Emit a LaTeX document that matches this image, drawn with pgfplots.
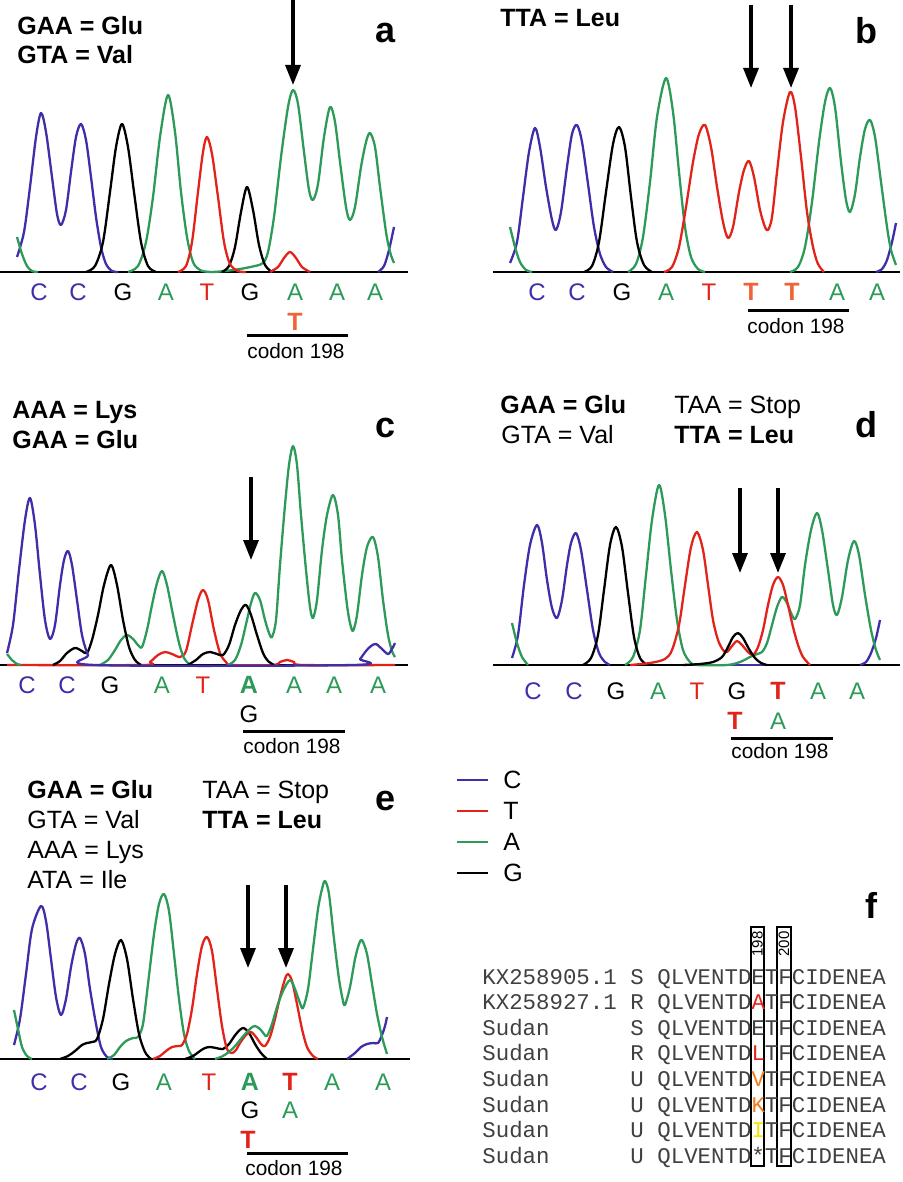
\documentclass[border=0pt]{standalone}
\usepackage{fontspec}
\setmainfont{Liberation Sans}
\setmonofont{Liberation Mono}
\usepackage{pgfplots}
\pgfplotsset{compat=1.18}
\usetikzlibrary{arrows.meta}

\definecolor{cC}{RGB}{62,46,168}
\definecolor{cT}{RGB}{226,35,26}
\definecolor{cA}{RGB}{46,154,90}
\definecolor{cOr}{RGB}{240,98,58}
\definecolor{cK}{RGB}{240,125,30}
\definecolor{cY}{RGB}{245,228,0}

% one axis per chromatogram: x = image column, y = height above the baseline
\pgfplotsset{
  panel/.style={anchor=south west, x=0.5pt, y=0.5pt, xmin=0, xmax=902,
    ymin=0, ymax=240, hide axis, clip=false},
  trC/.style={cC, smooth, tension=0.5, line width=1.15pt, line join=round},
  trT/.style={cT, smooth, tension=0.5, line width=1.15pt, line join=round},
  trA/.style={cA, smooth, tension=0.5, line width=1.15pt, line join=round},
  trG/.style={black, smooth, tension=0.5, line width=1.15pt, line join=round},
  base/.style={black, sharp plot, line width=1.3pt},
}
\tikzset{
  arr/.style={line width=1.6pt, -{Triangle[width=7.5pt,length=10pt]}},
  bl/.style={anchor=base, font=\fontsize{12}{12}\selectfont},
  bb/.style={anchor=base, font=\fontsize{12.5}{12.5}\selectfont\bfseries},
  cod/.style={anchor=base west, font=\fontsize{12.5}{12.5}\selectfont},
  codb/.style={anchor=base west, font=\fontsize{12.5}{12.5}\selectfont\bfseries},
  lab/.style={anchor=base west, font=\fontsize{18}{18}\selectfont\bfseries},
  cdn/.style={anchor=base west, font=\fontsize{10.4}{10.4}\selectfont},
  mono/.style={anchor=base west, inner sep=0pt, text=black!75, font=\fontsize{11.2}{11.2}\selectfont\ttfamily},
}

\begin{document}
\begin{tikzpicture}[x=0.5pt, y=-0.5pt, inner sep=0pt]
\path[use as bounding box] (0,0) rectangle (902,1182);

%% ---------------- panel a ----------------
\begin{axis}[panel, at={(0pt,-136pt)}]
\addplot[base] coordinates {(0,0) (408,0)};
\addplot[trC] coordinates {(17,15) (24,40) (30,85) (36,135) (41,159) (46,140) (52,95) (57,58) (61,47) (66,62) (71,100) (76,135) (81,148) (86,132) (91,95) (96,55) (101,25) (106,8) (112,1) (118,0)};
\addplot[trC] coordinates {(378,0) (384,6) (389,22) (394,45)};
\addplot[trA] coordinates {(17,35) (22,18) (27,6) (32,1) (38,0)};
\addplot[trA] coordinates {(128,0) (138,6) (146,30) (153,75) (160,135) (168,177) (175,140) (181,80) (187,35) (193,10) (200,2) (210,0) (225,1) (240,3) (255,6) (263,9) (268,20) (274,55) (281,115) (288,165) (293,182) (298,168) (304,120) (309,82) (313,72) (318,88) (324,135) (330,165) (335,150) (340,110) (346,65) (350,52) (355,65) (361,105) (366,130) (370,139) (375,125) (380,85) (386,40) (390,20) (394,9)};
\addplot[trG] coordinates {(86,0) (95,6) (103,30) (110,80) (116,125) (122,148) (128,125) (134,80) (141,30) (148,6) (156,0)};
\addplot[trG] coordinates {(222,0) (229,6) (235,25) (241,60) (247,85) (253,62) (259,27) (265,7) (272,0)};
\addplot[trT] coordinates {(178,0) (186,6) (192,30) (198,80) (203,120) (207,135) (212,118) (218,75) (224,30) (230,8) (238,1) (246,0)};
\addplot[trT] coordinates {(270,0) (278,5) (284,14) (290,20) (296,14) (302,5) (310,0)};
\end{axis}

%% ---------------- panel b ----------------
\begin{axis}[panel, at={(0pt,-136pt)}]
\addplot[base] coordinates {(493,0) (900,0)};
\addplot[trC] coordinates {(510,9) (517,30) (523,75) (529,120) (535,144) (540,125) (546,85) (552,52) (556,42) (561,60) (567,105) (572,138) (577,147) (582,130) (588,88) (594,45) (600,18) (606,5) (613,0)};
\addplot[trC] coordinates {(876,0) (882,3) (887,12) (892,30) (896,49)};
\addplot[trA] coordinates {(510,45) (515,25) (520,10) (526,2) (532,0)};
\addplot[trA] coordinates {(628,0) (636,8) (643,35) (650,90) (657,155) (666,194) (673,160) (679,100) (685,45) (691,15) (698,3) (705,0)};
\addplot[trA] coordinates {(790,0) (798,5) (805,25) (812,70) (819,130) (825,170) (830,184) (835,165) (841,110) (846,72) (850,60) (855,78) (860,115) (865,143) (870,152) (875,135) (881,90) (887,45) (891,22) (896,7)};
\addplot[trG] coordinates {(584,0) (592,6) (599,30) (606,80) (613,128) (619,145) (625,125) (631,75) (637,30) (644,7) (652,0)};
\addplot[trT] coordinates {(664,0) (672,5) (679,25) (686,65) (693,110) (699,138) (705,147) (711,125) (717,85) (723,50) (728,34) (733,45) (739,80) (744,102) (749,111) (754,95) (760,62) (765,45) (768,42) (772,55) (777,100) (783,150) (790,180) (795,165) (801,115) (807,60) (813,25) (818,8) (824,0)};
\end{axis}

%% ---------------- panel c ----------------
\begin{axis}[panel, at={(0pt,-332.5pt)}]
\addplot[base] coordinates {(0,0) (408,0)};
\addplot[trT] coordinates {(7,0) (143,0) (150,3) (158,10) (165,13) (172,11) (180,8) (186,14) (192,40) (198,65) (203,75) (208,65) (214,35) (220,12) (226,3) (232,0) (273,0) (280,3) (287,5) (294,3) (303,0) (395,0)};
\addplot[trA] coordinates {(7,11) (12,5) (17,1) (21,0)};
\addplot[trA] coordinates {(100,0) (108,5) (115,15) (121,25) (127,30) (133,26) (138,20) (142,18) (147,35) (152,60) (157,82) (162,94) (167,80) (173,50) (179,22) (184,7) (190,0)};
\addplot[trA] coordinates {(228,0) (235,5) (241,20) (247,45) (251,62) (255,72) (260,65) (265,45) (269,32) (272,28) (276,45) (280,100) (285,160) (289,200) (293,219) (297,200) (301,150) (306,95) (310,58) (313,47) (317,65) (322,115) (327,150) (333,170) (338,150) (342,105) (347,60) (350,42) (353,34) (357,50) (362,90) (367,118) (373,128) (378,108) (383,65) (388,30) (392,14) (395,8)};
\addplot[trG] coordinates {(53,0) (60,4) (67,12) (75,17) (82,14) (87,12) (92,25) (98,50) (104,80) (111,100) (117,80) (123,45) (129,18) (135,5) (141,0)};
\addplot[trG] coordinates {(188,0) (196,5) (203,11) (210,13) (217,11) (223,10) (229,20) (235,40) (241,55) (246,60) (251,50) (257,30) (263,12) (268,4) (274,0)};
\addplot[trC] coordinates {(7,12) (13,40) (19,95) (25,145) (30,167) (35,140) (40,90) (45,45) (50,26) (55,40) (60,80) (64,105) (68,114) (72,100) (77,65) (82,30) (88,10) (95,0) (353,0) (360,6) (366,14) (371,19) (376,21) (382,16) (388,11) (392,16) (395,22)};
\end{axis}

%% ---------------- panel d ----------------
\begin{axis}[panel, at={(0pt,-332.5pt)}]
\addplot[base] coordinates {(493,0) (900,0)};
\addplot[trC] coordinates {(512,7) (518,30) (524,80) (530,120) (537,140) (542,122) (547,85) (552,57) (557,47) (562,65) (567,100) (571,122) (576,132) (581,115) (587,75) (593,35) (599,12) (605,3) (610,0)};
\addplot[trC] coordinates {(860,0) (866,3) (871,12) (876,27) (880,45)};
\addplot[trC] coordinates {(725,0) (765,0)};
\addplot[trA] coordinates {(512,42) (517,22) (522,8) (528,0)};
\addplot[trA] coordinates {(625,0) (633,8) (640,35) (646,90) (652,145) (659,180) (665,150) (671,95) (677,45) (683,15) (690,3) (697,0) (727,0) (740,3) (750,8) (757,11) (762,13) (767,22) (772,40) (777,58) (782,68) (787,62) (791,52) (795,46) (800,60) (805,100) (811,135) (817,152) (822,135) (828,95) (833,60) (837,50) (842,68) (848,105) (854,124) (859,110) (865,70) (871,35) (876,15) (880,5)};
\addplot[trG] coordinates {(583,0) (591,7) (598,30) (604,75) (610,120) (616,138) (622,118) (628,72) (634,28) (640,7) (647,0)};
\addplot[trT] coordinates {(630,0) (650,2) (665,6) (672,15) (679,40) (685,80) (691,118) (697,133) (703,115) (708,80) (713,45) (718,25) (723,15) (727,13) (732,19) (737,24) (742,20) (748,13) (753,10) (758,18) (763,35) (768,60) (773,80) (778,88) (783,80) (788,60) (793,38) (798,20) (803,8) (810,0)};
\addplot[trG] coordinates {(683,0) (700,1) (713,3) (722,8) (728,18) (733,28) (738,32) (743,27) (749,16) (755,7) (761,2) (767,0)};
\end{axis}

%% ---------------- panel e ----------------
\begin{axis}[panel, at={(0pt,-529.5pt)}]
\addplot[base] coordinates {(0,0) (410,0)};
\addplot[trC] coordinates {(14,14) (20,40) (26,85) (32,130) (41,153) (46,138) (51,100) (56,62) (61,44) (66,60) (71,92) (76,115) (80,121) (85,105) (90,70) (96,35) (101,12) (107,2) (113,0)};
\addplot[trC] coordinates {(347,0) (355,6) (361,12) (367,15) (373,16) (378,16) (382,24) (385,33) (387,42)};
\addplot[trA] coordinates {(14,49) (18,30) (22,12) (27,3) (32,0)};
\addplot[trA] coordinates {(107,0) (114,4) (120,12) (126,18) (133,21) (138,22) (143,35) (148,75) (154,125) (159,155) (164,165) (169,148) (174,105) (179,60) (184,25) (189,8) (195,0)};
\addplot[trG] coordinates {(60,0) (68,3) (75,8) (82,14) (87,16) (92,17) (97,20) (103,40) (109,75) (115,105) (121,119) (127,100) (133,60) (139,25) (145,7) (151,0)};
\addplot[trG] coordinates {(185,0) (193,3) (200,8) (205,11) (210,12) (216,11) (223,10) (229,15) (236,25) (243,31) (249,26) (255,15) (261,6) (267,0)};
\addplot[trT] coordinates {(153,0) (160,3) (166,8) (172,12) (178,13) (182,14) (187,25) (192,50) (197,85) (202,113) (207,122) (212,108) (217,70) (222,33) (227,10) (232,6) (236,9) (240,16) (246,24) (251,27) (256,22) (261,15) (265,13) (270,22) (275,40) (280,62) (285,80) (288,85) (292,78) (297,55) (302,30) (307,12) (313,3) (318,0)};
\addplot[trA] coordinates {(215,0) (223,3) (230,8) (236,14) (240,19) (246,26) (251,31) (255,33) (260,30) (264,25) (267,23) (272,35) (277,52) (283,68) (290,79) (295,70) (300,56) (303,51) (308,70) (313,110) (318,150) (322,170) (325,178) (329,165) (334,120) (339,80) (343,58) (345,54) (350,72) (355,100) (359,115) (362,119) (367,105) (372,75) (377,45) (382,22) (387,5)};
\end{axis}

%% ---------------- arrows ----------------
\draw[arr] (293,0) -- (293,85);
\draw[arr] (751,5) -- (751,88);
\draw[arr] (791,5) -- (791,88);
\draw[arr] (251,477) -- (251,560);
\draw[arr] (740,488) -- (740,573);
\draw[arr] (778,488) -- (778,573);
\draw[arr] (248,885) -- (248,968);
\draw[arr] (286,885) -- (286,968);

%% ---------------- codon lines ----------------
\foreach \xa/\xb/\yy in {247/348/335, 748/849/310, 243/345/731, 731/833/738, 247/348/1153}
  \draw[line width=1.5pt] (\xa,\yy) -- (\xb,\yy);
\node[cdn] at (247,358) {codon 198};
\node[cdn] at (747,333) {codon 198};
\node[cdn] at (243,753) {codon 198};
\node[cdn] at (731,758) {codon 198};
\node[cdn] at (245,1175) {codon 198};

%% ---------------- panel labels ----------------
\node[lab] at (375,43) {a};
\node[lab] at (855,44) {b};
\node[lab] at (375,437) {c};
\node[lab] at (855,437) {d};
\node[lab] at (375,810) {e};
\node[lab] at (865,918) {f};

%% ---------------- codon tables ----------------
\node[codb] at (17,35) {GAA = Glu};
\node[codb] at (17,64) {GTA = Val};
\node[codb] at (500,27) {TTA = Leu};
\node[codb] at (12,418) {AAA = Lys};
\node[codb] at (12,448) {GAA = Glu};
\node[codb] at (500,413) {GAA = Glu};
\node[cod]  at (674,413) {TAA = Stop};
\node[cod]  at (501,443) {GTA = Val};
\node[codb] at (674,443) {TTA = Leu};
\node[codb] at (27,798) {GAA = Glu};
\node[cod]  at (27,828) {GTA = Val};
\node[cod]  at (27,858) {AAA = Lys};
\node[cod]  at (27,888) {ATA = Ile};
\node[cod]  at (202,798) {TAA = Stop};
\node[codb] at (202,828) {TTA = Leu};

%% ---------------- base calls ----------------
% a
\foreach \xx/\cc/\bb in {39/cC/C, 78/cC/C, 123/black/G, 166/cA/A, 207/cT/T, 250/black/G, 295/cA/A, 337/cA/A, 375/cA/A}
  \node[bl, text=\cc] at (\xx,300) {\bb};
\node[bb, text=cOr] at (295,330) {T};
% b
\foreach \xx/\cc/\bb in {537/cC/C, 577/cC/C, 622/black/G, 666/cA/A, 709/cT/T, 837/cA/A, 877/cA/A}
  \node[bl, text=\cc] at (\xx,300) {\bb};
\node[bb, text=cOr] at (751,300) {T};
\node[bb, text=cOr] at (792,300) {T};
% c
\foreach \xx/\cc/\bb in {27/cC/C, 67/cC/C, 110/black/G, 162/cA/A, 203/cT/T, 294/cA/A, 334/cA/A, 378/cA/A}
  \node[bl, text=\cc] at (\xx,693) {\bb};
\node[bb, text=cA] at (249,693) {A};
\node[bl, text=black] at (249,722) {G};
% d
\foreach \xx/\cc/\bb in {533/cC/C, 574/cC/C, 616/black/G, 658/cA/A, 697/cT/T, 737/black/G, 818/cA/A, 857/cA/A}
  \node[bl, text=\cc] at (\xx,699) {\bb};
\node[bb, text=cT] at (778,699) {T};
\node[bb, text=cT] at (735,729) {T};
\node[bl, text=cA] at (778,729) {A};
% e
\foreach \xx/\cc/\bb in {39/cC/C, 79/cC/C, 121/black/G, 164/cA/A, 209/cT/T, 332/cA/A, 383/cA/A}
  \node[bl, text=\cc] at (\xx,1090) {\bb};
\node[bb, text=cA] at (250,1090) {A};
\node[bb, text=cT] at (290,1090) {T};
\node[bl, text=black] at (250,1118) {G};
\node[bl, text=cA] at (290,1118) {A};
\node[bb, text=cT] at (248,1148) {T};

%% ---------------- legend ----------------
\foreach \yy/\cc/\bb in {780/cC/C, 811/cT/T, 842/cA/A, 873/black/G} {
  \draw[\cc, line width=1.2pt] (457,\yy) -- (488,\yy);
  \node[anchor=west, font=\fontsize{12.5}{12.5}\selectfont] at (503,\yy) {\bb};
}

%% ---------------- alignment (f) ----------------
\draw[line width=1pt] (751,927) rectangle (764,1166);
\draw[line width=1pt] (777,927) rectangle (791,1166);
\node[rotate=90, font=\fontsize{7.5}{7.5}\selectfont] at (757.5,944) {198};
\node[rotate=90, font=\fontsize{7.5}{7.5}\selectfont] at (784,944) {200};
\foreach \yy/\nm/\st/\res in {984/KX258905.1/S/E, 1009.6/KX258927.1/R/\textcolor{cT}{A},
    1035.2/Sudan/S/E, 1060.8/Sudan/R/\textcolor{cT}{L}, 1086.4/Sudan/U/\textcolor{cK}{V},
    1112/Sudan/U/\textcolor{cK}{K}, 1137.6/Sudan/U/\textcolor{cY}{I}, 1163.2/Sudan/U/*} {
  \node[mono] at (482,\yy) {\nm};
  \node[mono] at (630,\yy) {\st};
  \node[mono] at (657,\yy) {QLVENTD\res TFCIDENEA};
}
\end{tikzpicture}
\end{document}
